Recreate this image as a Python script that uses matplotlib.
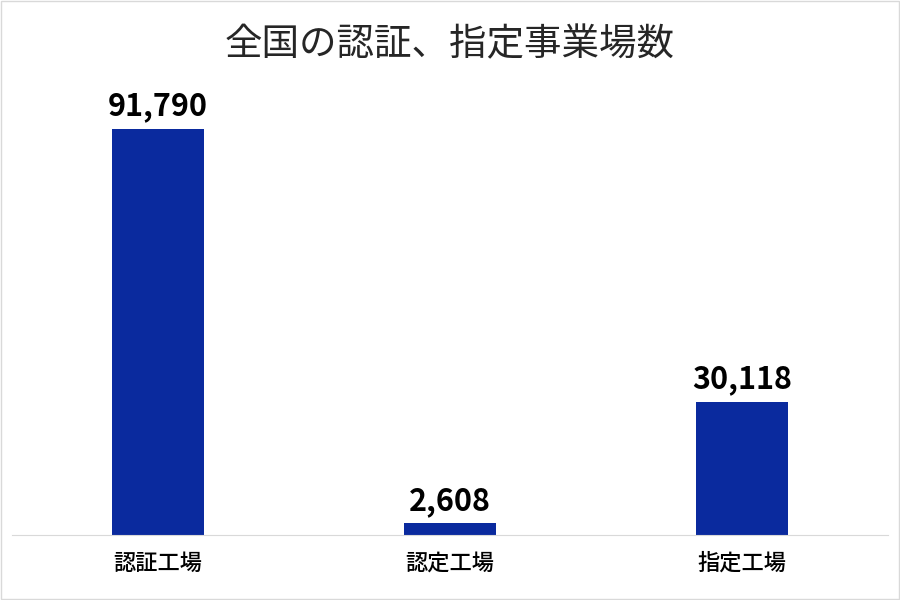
import matplotlib.pyplot as plt

plt.rcParams['font.family'] = ['Noto Sans CJK JP', 'DejaVu Sans']

categories = ['認証工場', '認定工場', '指定工場']
counts = [91790, 2608, 30118]

fig = plt.figure(figsize=(9, 6), dpi=100)
ax = fig.add_axes([0.0133, 0.1083, 0.9734, 0.738])
bars = ax.bar(range(len(categories)), counts, width=0.315, color='#0A2A9E')
for i, v in enumerate(counts):
    ax.text(i, v + 1500, f'{v:,}', ha='center', va='bottom',
            fontsize=22, fontweight='bold', color='black')

ax.set_xlim(-0.5, 2.5)
ax.set_ylim(0, 100000)
ax.set_xticks(range(len(categories)))
ax.set_xticklabels(categories, fontsize=16, fontweight='medium')
ax.tick_params(axis='x', length=0, pad=12)
ax.set_yticks([])
for s in ['top', 'right', 'left']:
    ax.spines[s].set_visible(False)
ax.spines['bottom'].set_color('#d9d9d9')

fig.text(0.5, 0.925, '全国の認証、指定事業場数', ha='center', va='center',
         fontsize=27, color='#262626')
fig.patches.append(plt.Rectangle((0.001, 0.001), 0.998, 0.998, transform=fig.transFigure,
                                 fill=False, edgecolor='#d9d9d9', linewidth=1))
fig.savefig('out.png')
